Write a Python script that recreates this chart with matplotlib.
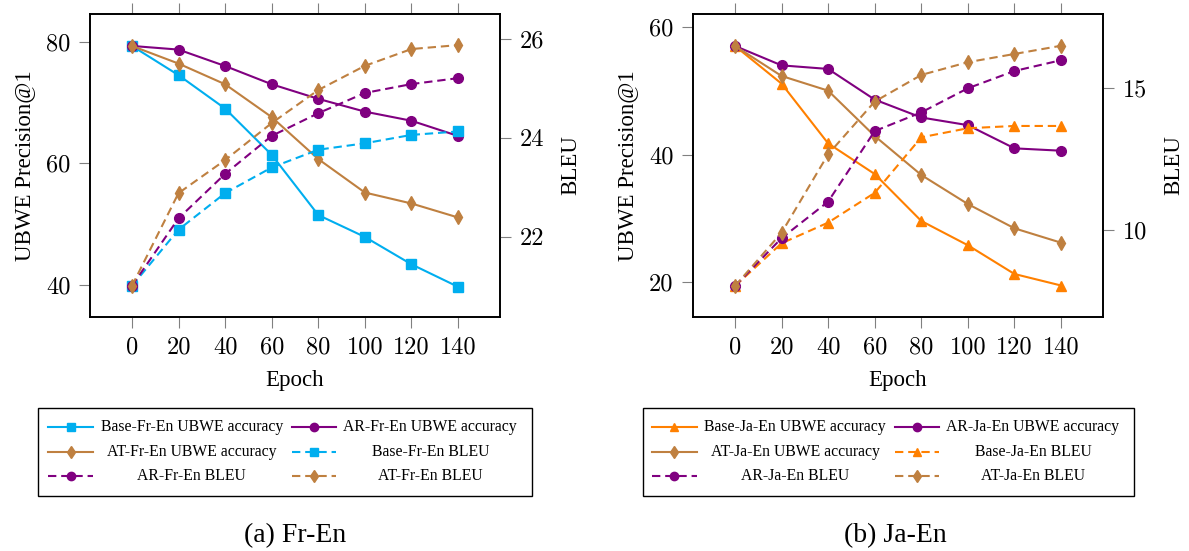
#UBWE precision and BLEU over training epochs, Fr-En and Ja-En
import matplotlib
matplotlib.use("Agg")
import matplotlib.pyplot as plt
from matplotlib.lines import Line2D
from matplotlib.patches import Rectangle

plt.rcParams['lines.scale_dashes'] = False

epochs = [0, 20, 40, 60, 80, 100, 120, 140]

#Fr-En
fr_base_ubwe = [79.3, 74.5, 69.0, 61.4, 51.5, 47.9, 43.4, 39.7]
fr_ar_ubwe = [79.3, 78.7, 76.0, 73.0, 70.6, 68.5, 67.0, 64.5]
fr_at_ubwe = [79.3, 76.4, 73.0, 67.6, 60.7, 55.2, 53.4, 51.1]
fr_base_bleu = [21.0, 22.14, 22.88, 23.40, 23.76, 23.89, 24.06, 24.13]
fr_ar_bleu = [21.0, 22.37, 23.27, 24.04, 24.50, 24.91, 25.09, 25.21]
fr_at_bleu = [21.0, 22.88, 23.55, 24.30, 24.97, 25.46, 25.80, 25.88]

#Ja-En
ja_base_ubwe = [57.0, 51.1, 41.75, 36.95, 29.6, 25.8, 21.3, 19.5]
ja_ar_ubwe = [57.0, 53.96, 53.4, 48.6, 45.8, 44.6, 40.97, 40.6]
ja_at_ubwe = [57.0, 52.3, 50.0, 42.9, 36.8, 32.25, 28.45, 26.2]
ja_base_bleu = [8.02, 9.53, 10.26, 11.31, 13.27, 13.59, 13.67, 13.67]
ja_ar_bleu = [8.02, 9.71, 11.0, 13.49, 14.15, 15.0, 15.61, 15.99]
ja_at_bleu = [8.02, 9.90, 12.67, 14.53, 15.47, 15.92, 16.21, 16.50]

fr_labels = ["Base-Fr-En UBWE accuracy", "AR-Fr-En UBWE accuracy", "AT-Fr-En UBWE accuracy",
             "Base-Fr-En BLEU", "AR-Fr-En BLEU", "AT-Fr-En BLEU"]
ja_labels = ["Base-Ja-En UBWE accuracy", "AR-Ja-En UBWE accuracy", "AT-Ja-En UBWE accuracy",
             "Base-Ja-En BLEU", "AR-Ja-En BLEU", "AT-Ja-En BLEU"]

CYAN = "#00AEEF"
PURPLE = "#800080"
BROWN = "#BF8040"
ORANGE = "#FF8000"

W, H = 1189, 551
SERIF = "Liberation Serif"
TICKFONT = "cmr10"
DASH = (6, 3.5)

fig = plt.figure(figsize=(W / 100, H / 100), dpi=100)


def px_box(x0, x1, y0, y1):
    return [x0 / W, 1 - y1 / H, (x1 - x0) / W, (y1 - y0) / H]


def style(marker, color, dashed):
    d = dict(color=color, marker=marker, markersize=7 if marker != 'd' else 7.5,
             markerfacecolor=color, markeredgecolor=color, lw=1.5)
    if marker == '^':
        d['markersize'] = 7.5
    if dashed:
        d['dashes'] = DASH
    return d


def panel(box, ubwe, bleu, styles, ylim1, yt1, ylim2, yt2):
    ax = fig.add_axes(box)
    ax2 = ax.twinx()
    for vals, (m, c) in zip(ubwe, styles):
        ax.plot(epochs, vals, **style(m, c, False))
    for vals, (m, c) in zip(bleu, styles):
        ax2.plot(epochs, vals, **style(m, c, True))
    ax.set_xlim(-18, 158)
    ax.set_ylim(*ylim1)
    ax2.set_ylim(*ylim2)
    ax.set_xticks(epochs)
    ax.set_yticks(yt1)
    ax2.set_yticks(yt2)
    ax.tick_params(axis='x', top=True, direction='out', length=8, width=0.8,
                   color='#808080', pad=6, labelsize=17.5)
    ax.tick_params(axis='y', direction='out', length=8, width=0.8,
                   color='#808080', pad=6, labelsize=17.5)
    ax2.tick_params(axis='y', direction='out', length=8, width=0.8,
                    color='#808080', pad=6, labelsize=17.5)
    for a in (ax, ax2):
        for lab in a.get_xticklabels() + a.get_yticklabels():
            lab.set_fontfamily(TICKFONT)
        for sp in a.spines.values():
            sp.set_linewidth(1.2)
    ax.set_xlabel("Epoch", fontfamily=SERIF, fontsize=16.5, labelpad=8)
    ax.set_ylabel("UBWE Precision@1", fontfamily=SERIF, fontsize=16.5, labelpad=8)
    ax2.set_ylabel("BLEU", fontfamily=SERIF, fontsize=16.5, labelpad=12, rotation=90)
    return ax, ax2


def legend(x0, x1, y0, y1, labels, styles, hcols, tcols, rows):
    fig.add_artist(Rectangle((x0 / W, 1 - y1 / H), (x1 - x0) / W, (y1 - y0) / H,
                             transform=fig.transFigure, fill=False, ec='black', lw=1.0))
    entries = [(labels[i], styles[i % 3], i >= 3) for i in range(6)]
    for k, (lab, (m, c), dashed) in enumerate(entries):
        r, col = divmod(k, 2)
        y = 1 - rows[r] / H
        hx0, hx1 = hcols[col]
        xs = [hx0 / W, (hx0 + hx1) / 2 / W, hx1 / W]
        st = style(m, c, dashed)
        st['markersize'] = 6
        ln = Line2D(xs, [y, y, y], transform=fig.transFigure, markevery=[1], **st)
        fig.add_artist(ln)
        fig.text(tcols[col] / W, y, lab, ha='center', va='center',
                 fontfamily=SERIF, fontsize=11.3)


fr_styles = [('s', CYAN), ('o', PURPLE), ('d', BROWN)]
ja_styles = [('^', ORANGE), ('o', PURPLE), ('d', BROWN)]

panel(px_box(90, 500, 14, 317), [fr_base_ubwe, fr_ar_ubwe, fr_at_ubwe],
      [fr_base_bleu, fr_ar_bleu, fr_at_bleu], fr_styles,
      (34.74, 84.55), [40, 60, 80], (20.37, 26.51), [22, 24, 26])
panel(px_box(693, 1103, 14, 317), [ja_base_ubwe, ja_ar_ubwe, ja_at_ubwe],
      [ja_base_bleu, ja_ar_bleu, ja_at_bleu], ja_styles,
      (14.57, 62.0), [20, 40, 60], (6.93, 17.62), [10, 15])

legend(38, 532, 408, 496, fr_labels, fr_styles,
       [(48, 93), (292, 336)], [191.7, 430.3], [426.7, 451.7, 476])
legend(643, 1134, 408, 496, ja_labels, ja_styles,
       [(652, 697), (895, 939)], [795.3, 1033], [426.7, 451.7, 476])

fig.text(295 / W, 1 - 536 / H, "(a) Fr-En", ha='center', va='center',
         fontfamily=SERIF, fontsize=20)
fig.text(895 / W, 1 - 536 / H, "(b) Ja-En", ha='center', va='center',
         fontfamily=SERIF, fontsize=20)

fig.savefig("out.png", dpi=100)
